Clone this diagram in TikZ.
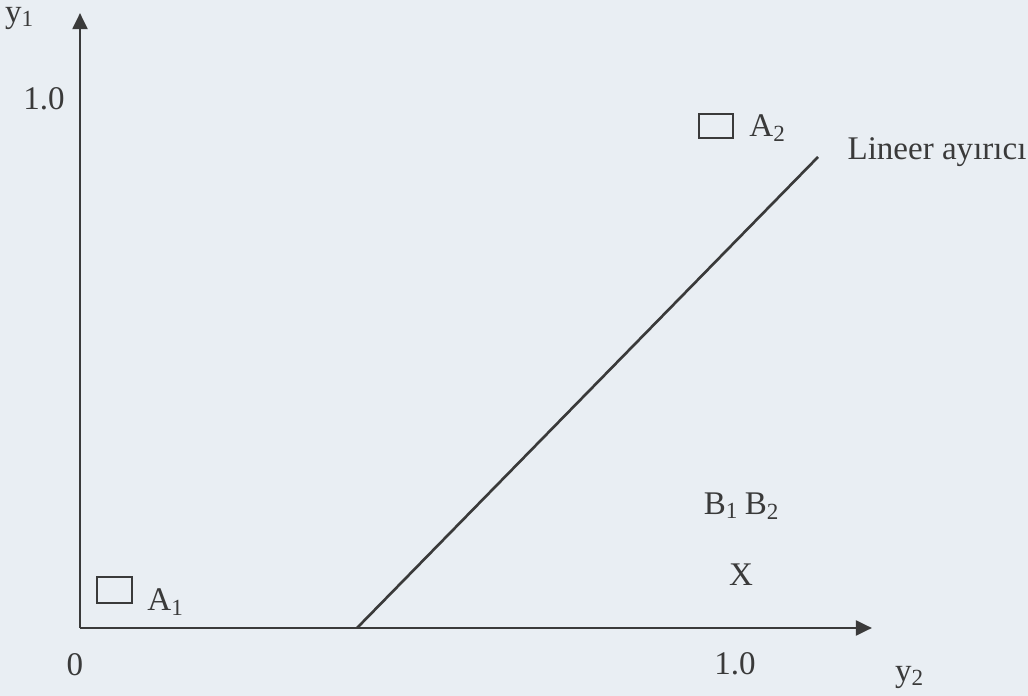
\documentclass[tikz,border=0pt]{standalone}
\usepackage{fontspec}
\setmainfont{Liberation Serif}
\usetikzlibrary{arrows.meta, positioning}
\definecolor{paperbg}{RGB}{233, 238, 243}
\definecolor{inkgray}{RGB}{58, 58, 58}

\begin{document}
\begin{tikzpicture}[
        axis/.style={-{Triangle[length=4.6pt, width=4.2pt]}, line width=0.85pt, inkgray},
        sep/.style={line width=0.75pt, inkgray},
        cls/.style={rectangle, draw=inkgray, line width=0.75pt, inner sep=0pt},
        lbl/.style={font=\fontsize{9.4}{11}\selectfont, text=inkgray, inner sep=0pt}
      ]
        \fill[paperbg] (0,0) rectangle (10.28,6.96);
        \useasboundingbox (0,0) rectangle (10.28,6.96);

        \coordinate (O) at (0.80, 0.68);
        \coordinate (Ytip) at (0.80, 6.83);
        \coordinate (Xtip) at (8.72, 0.68);
        \coordinate (S0) at (3.57, 0.68);
        \coordinate (S1) at (8.18, 5.39);

        \draw[axis] (O) -- (Ytip);
        \draw[axis] (O) -- (Xtip);
        \draw[sep] (S0) -- (S1);

        \node[cls, minimum width=0.34cm, minimum height=0.24cm] (A2box) at (7.16, 5.70) {};
        \node[cls, minimum width=0.35cm, minimum height=0.26cm] (A1box) at (1.145, 1.06) {};

        \node[lbl] (y1) at (0.20, 6.78) {y\textsubscript{1}};
        \node[lbl] (ytick) at (0.44, 5.97) {1.0};
        \node[lbl] (A2) at (7.68, 5.68) {A\textsubscript{2}};
        \node[lbl] (sepname) at (9.37, 5.44) {Lineer ayırıcı};
        \node[lbl] (B12) at (7.42, 1.90) {B\textsubscript{1}\,B\textsubscript{2}};
        \node[lbl] (X) at (7.41, 1.21) {X};
        \node[lbl] (A1) at (1.66, 0.94) {A\textsubscript{1}};
        \node[lbl] (zero) at (0.75, 0.31) {0};
        \node[lbl] (xtick) at (7.35, 0.32) {1.0};
        \node[lbl] (y2) at (9.10, 0.19) {y\textsubscript{2}};
      \end{tikzpicture}
\end{document}
